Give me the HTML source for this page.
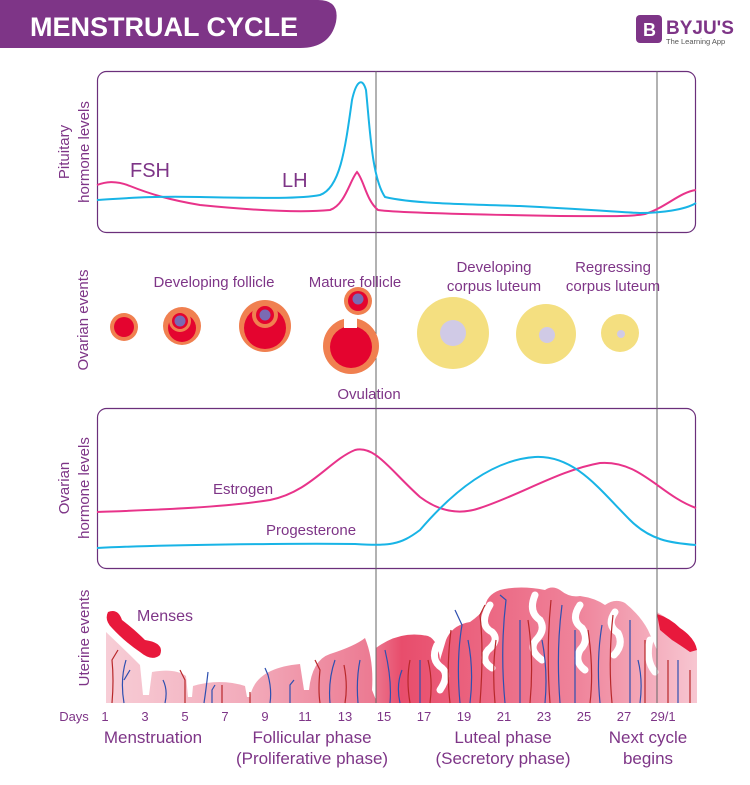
<!DOCTYPE html>
<html><head><meta charset="utf-8"><style>
html,body{margin:0;padding:0;background:#fff}
svg{display:block}
text{font-family:"Liberation Sans",Arial,sans-serif}
</style></head><body>
<svg width="750" height="785" viewBox="0 0 750 785" xmlns="http://www.w3.org/2000/svg">
<defs>
<linearGradient id="ut" x1="0" x2="1" y1="0" y2="0">
<stop offset="0" stop-color="#f7cdd6"/>
<stop offset="0.25" stop-color="#f2a9b9"/>
<stop offset="0.45" stop-color="#ec7a92"/>
<stop offset="0.5" stop-color="#e84d6c"/>
<stop offset="0.8" stop-color="#ef849b"/>
<stop offset="1" stop-color="#f7c6d1"/>
</linearGradient>
</defs>
<path d="M0,0 H318 Q340,0 336,22 Q330,48 300,48 H0 Z" fill="#7e3587"/>
<text x="30" y="36" font-size="27" font-weight="bold" fill="#fff">MENSTRUAL CYCLE</text>
<rect x="636" y="15" width="26" height="28" rx="4" fill="#7e3587"/>
<text x="643" y="36" font-size="18" fill="#fff" font-weight="bold">B</text>
<text x="666" y="34" font-size="19" font-weight="bold" fill="#7e3587">BYJU'S</text>
<text x="666" y="44" font-size="7.5" fill="#555">The Learning App</text>

<rect x="97.5" y="71.5" width="598" height="161" rx="9" fill="none" stroke="#6b2f7b" stroke-width="1.2"/>
<rect x="97.5" y="408.5" width="598" height="160" rx="9" fill="none" stroke="#6b2f7b" stroke-width="1.2"/>

<path d="M106,703 L106,632 Q125,650 140,665 L143,695 L149,695 L152,672 Q175,668 186,676 L188,697 L192,697 L193,686 Q220,678 245,686 L247,697 L250,697 Q255,668 300,664 L304,690 L309,690 Q312,660 330,654 Q355,646 365,638 Q374,660 372,690 L376,700 L376,648 Q400,630 428,636 Q438,640 440,660 L446,640 Q452,625 470,622 Q480,615 485,608 Q486,595 500,590 Q520,585 545,590 Q552,585 560,590 Q570,598 580,596 Q595,598 605,605 Q615,598 625,603 Q640,615 648,630 L657,650 L657,612 Q680,625 697,650 L697,703 Z" fill="url(#ut)"/>
<g fill="none" stroke="#fff" stroke-width="7" stroke-linecap="round">
<path d="M437,645 Q430,660 442,668 Q450,675 440,690"/>
<path d="M490,605 Q478,625 492,632 Q500,640 488,650 Q480,660 492,668"/>
<path d="M535,595 Q528,612 540,620 Q546,630 536,640 Q528,650 542,660"/>
<path d="M580,605 Q570,620 582,628 Q590,640 580,650 Q574,662 585,670"/>
<path d="M615,612 Q606,625 618,633 Q624,645 614,655"/>
<path d="M650,640 Q645,660 655,672"/>
</g>
<g fill="none" stroke="#2e4fb0" stroke-width="1.2">
<path d="M124,703 Q120,680 126,660 M124,680 L130,670 M165,703 Q168,690 163,680 M204,703 Q206,690 208,672 M212,703 V690 L215,685 M270,703 Q272,690 268,675 L265,668 M290,703 V685 L294,680 M330,703 Q328,680 335,660 M358,703 Q356,680 360,660 M390,703 Q392,680 385,650 M400,703 Q396,685 402,670 M420,703 V660 M460,703 Q456,660 462,625 L455,610 M470,703 Q474,670 468,640 M505,703 Q500,650 506,600 L500,595 M520,703 V620 M545,703 Q548,670 542,640 M560,703 Q556,650 562,605 M575,703 V630 M600,703 Q596,660 602,625 M630,703 V620 M640,703 Q643,680 638,660 M678,703 V660"/>
</g>
<g fill="none" stroke="#b8282a" stroke-width="1.2">
<path d="M112,703 Q114,680 112,660 L118,650 M185,703 V680 L180,670 M222,703 V685 M250,703 V692 M320,703 Q318,690 320,670 L315,660 M345,703 Q348,685 344,665 M410,703 Q406,680 410,660 M430,703 Q433,680 428,660 M450,703 Q446,670 451,630 M480,703 Q484,650 480,615 L485,605 M495,703 Q492,670 496,640 M530,703 Q534,660 528,620 M550,703 Q546,650 551,600 M590,703 Q594,670 588,630 M612,703 Q608,660 613,615 M645,703 V640 M668,703 V660 M690,703 V670"/>
</g>
<path d="M108,612 Q118,608 122,620 Q135,630 145,640 Q165,643 160,655 Q152,662 140,652 Q125,642 112,628 Q104,620 108,612 Z" fill="#e8193c"/>
<path d="M657,614 Q670,618 680,628 Q695,638 697,650 L690,652 Q680,645 672,640 L660,630 Z" fill="#e8193c"/>

<line x1="376" y1="71" x2="376" y2="703" stroke="#666" stroke-width="1"/>
<line x1="657" y1="71" x2="657" y2="703" stroke="#666" stroke-width="1"/>

<path d="M97,185 C105,182 115,180 130,186 C150,194 170,200 200,205 C250,210 300,213 330,210 C345,205 350,180 357,172 C364,180 366,200 378,210 C400,213 500,215 560,216 C600,216 630,217 645,214 C665,208 680,192 696,190" fill="none" stroke="#e8338a" stroke-width="2"/>
<path d="M97,200 C130,198 150,196 200,197 C260,198 300,199 320,195 C340,188 345,150 352,100 C356,82 362,76 366,90 C370,130 372,178 385,197 C410,203 450,204 520,206 C580,209 620,212 640,213 C660,213 685,210 696,203" fill="none" stroke="#18b4e6" stroke-width="2"/>
<text x="130" y="177" font-size="20" fill="#7e3587">FSH</text>
<text x="282" y="187" font-size="20" fill="#7e3587">LH</text>

<path d="M97,512 C150,510 220,508 270,500 C310,492 330,460 355,450 C375,445 390,470 420,497 C440,512 460,515 480,508 C520,495 560,470 600,463 C640,460 660,495 696,508" fill="none" stroke="#e8338a" stroke-width="2"/>
<path d="M97,548 C150,545 300,543 355,544 C390,546 400,545 420,530 C450,495 490,460 535,457 C575,455 600,490 630,520 C650,540 670,543 696,545" fill="none" stroke="#18b4e6" stroke-width="2"/>
<text x="213" y="494" font-size="15" fill="#7e3587">Estrogen</text>
<text x="266" y="535" font-size="15" fill="#7e3587">Progesterone</text>

<circle cx="124" cy="327" r="14" fill="#f08050"/><circle cx="124" cy="327" r="10" fill="#e4042f"/>
<circle cx="182" cy="326" r="19" fill="#f08050"/><circle cx="182" cy="328" r="14" fill="#e4042f"/>
<circle cx="180" cy="321" r="11" fill="#f08050"/><circle cx="180" cy="321" r="8" fill="#e4042f"/><circle cx="180" cy="321" r="5.5" fill="#7a6bb3"/>
<circle cx="265" cy="326" r="26" fill="#f08050"/><circle cx="265" cy="328" r="21" fill="#e4042f"/>
<circle cx="265" cy="315" r="13" fill="#f08050"/><circle cx="265" cy="315" r="9" fill="#e4042f"/><circle cx="265" cy="315" r="5.5" fill="#7a6bb3"/>
<circle cx="351" cy="346" r="28" fill="#f08050"/><circle cx="351" cy="347" r="21" fill="#e4042f"/>
<rect x="344" y="316" width="13" height="12" fill="#fff"/>
<circle cx="358" cy="301" r="14" fill="#f08050"/><circle cx="358" cy="301" r="10" fill="#e4042f"/><circle cx="358" cy="299" r="5.5" fill="#7a6bb3"/>
<circle cx="453" cy="333" r="36" fill="#f4df80"/><circle cx="453" cy="333" r="13" fill="#d0cae6"/>
<circle cx="546" cy="334" r="30" fill="#f4df80"/><circle cx="547" cy="335" r="8" fill="#d0cae6"/>
<circle cx="620" cy="333" r="19" fill="#f4df80"/><circle cx="621" cy="334" r="4" fill="#d0cae6"/>

<g font-size="15" fill="#7e3587" text-anchor="middle">
<text x="214" y="287">Developing follicle</text>
<text x="355" y="287">Mature follicle</text>
<text x="494" y="272">Developing</text>
<text x="494" y="291">corpus luteum</text>
<text x="613" y="272">Regressing</text>
<text x="613" y="291">corpus luteum</text>
<text x="369" y="399">Ovulation</text>
</g>

<g font-size="15" fill="#7e3587" text-anchor="middle">
<text transform="translate(69,152) rotate(-90)">Pituitary</text>
<text transform="translate(89,152) rotate(-90)">hormone levels</text>
<text transform="translate(88,320) rotate(-90)">Ovarian events</text>
<text transform="translate(69,488) rotate(-90)">Ovarian</text>
<text transform="translate(89,488) rotate(-90)">hormone levels</text>
<text transform="translate(89,638) rotate(-90)">Uterine events</text>
</g>
<text x="137" y="621" font-size="16" fill="#7e3587">Menses</text>

<g font-size="13" fill="#7e3587" text-anchor="middle">
<text x="74" y="721">Days</text>
<text x="105" y="721">1</text><text x="145" y="721">3</text><text x="185" y="721">5</text><text x="225" y="721">7</text>
<text x="265" y="721">9</text><text x="305" y="721">11</text><text x="345" y="721">13</text><text x="384" y="721">15</text>
<text x="424" y="721">17</text><text x="464" y="721">19</text><text x="504" y="721">21</text><text x="544" y="721">23</text>
<text x="584" y="721">25</text><text x="624" y="721">27</text><text x="663" y="721">29/1</text>
</g>
<g font-size="17" fill="#7e3587" text-anchor="middle">
<text x="153" y="743">Menstruation</text>
<text x="312" y="743">Follicular phase</text>
<text x="312" y="764">(Proliferative phase)</text>
<text x="503" y="743">Luteal phase</text>
<text x="503" y="764">(Secretory phase)</text>
<text x="648" y="743">Next cycle</text>
<text x="648" y="764">begins</text>
</g>
</svg>
</body></html>
